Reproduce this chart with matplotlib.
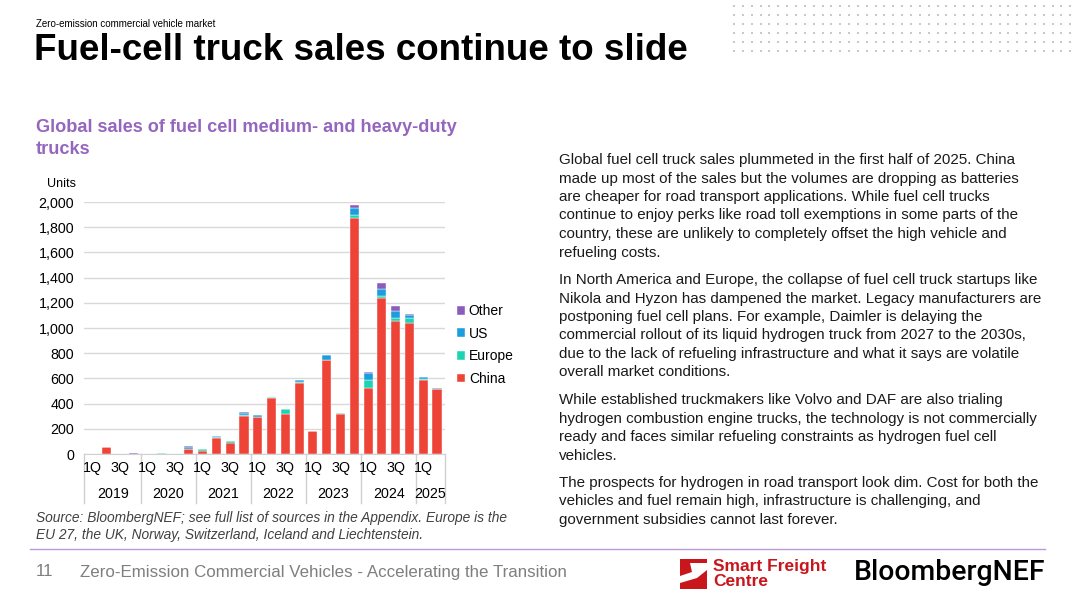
import matplotlib
matplotlib.use("Agg")
import matplotlib.pyplot as plt
import numpy as np
from matplotlib.patches import Rectangle, Polygon
from matplotlib.lines import Line2D

plt.rcParams["font.family"] = ["Liberation Sans", "DejaVu Sans"]

# quarterly sales, 1Q2019 .. 2Q2025
years = ["2019", "2020", "2021", "2022", "2023", "2024", "2025"]
quarters_per_year = [4, 4, 4, 4, 4, 4, 2]
china = [0, 55, 0, 0, 0, 0, 0, 40, 27, 130, 90, 305, 297, 445, 320, 560,
         180, 747, 318, 1870, 525, 1235, 1052, 1038, 585, 512]
europe = [0, 0, 0, 0, 0, 6, 0, 3, 15, 3, 13, 5, 0, 7, 35, 10,
          5, 3, 5, 25, 60, 22, 27, 45, 8, 5]
us = [0, 0, 0, 0, 0, 0, 0, 12, 0, 13, 0, 18, 10, 0, 0, 15,
      0, 35, 5, 60, 55, 50, 55, 20, 15, 10]
other = [0, 0, 0, 5, 0, 0, 0, 6, 0, 0, 0, 3, 0, 0, 0, 3,
         0, 0, 0, 22, 8, 53, 40, 8, 0, 0]
series = [("China", china, "#EE4438"), ("Europe", europe, "#1ED3B3"),
          ("US", us, "#1C9DDE"), ("Other", other, "#8C5CBD")]
quarter_labels = ["1Q", "", "3Q", ""]

W, H = 1080, 597
fig = plt.figure(figsize=(W / 100, H / 100), dpi=100)


def fx(px):
    return px / W


def fy(py):
    return 1 - py / H


# decorative dot grid, top right
for row_y in [6, 15, 24, 33, 42, 51]:
    for col in range(39):
        fig.add_artist(Rectangle((fx(733 + col * 8.85), fy(row_y + 1)), 2 / W, 2 / H,
                                 transform=fig.transFigure, color="#C8C8C8", lw=0))

fig.text(fx(36), fy(24), "Zero-emission commercial vehicle market", fontsize=7,
         va="center", ha="left")
fig.text(fx(34), fy(51), "Fuel-cell truck sales continue to slide", fontsize=26.5,
         weight="bold", va="center", ha="left")
fig.text(fx(36), fy(128), "Global sales of fuel cell medium- and heavy-duty", fontsize=13.1,
         weight="bold", color="#9466BE", va="center", ha="left")
fig.text(fx(36), fy(150), "trucks", fontsize=13.1, weight="bold", color="#9466BE",
         va="center", ha="left")
fig.text(fx(47), fy(184), "Units", fontsize=9, va="center", ha="left")

ax = fig.add_axes([fx(84), fy(454), fx(445) - fx(84), (454 - 202) / H])
n = len(china)
x = np.arange(n)
bottom = np.zeros(n)
for name, vals, color in series:
    ax.bar(x, vals, width=0.66, bottom=bottom, color=color, label=name,
           edgecolor="white", linewidth=0.3)
    bottom += np.array(vals)

ax.set_xlim(-0.6, n - 0.42)
ax.set_ylim(0, 2000)
ax.set_yticks(np.arange(0, 2001, 200))
ax.set_yticklabels([f"{v:,}" for v in range(0, 2001, 200)], fontsize=10.3)
ax.yaxis.grid(True, color="#D9D9D9", lw=1)
ax.set_axisbelow(True)
for side in ["top", "right", "left"]:
    ax.spines[side].set_visible(False)
ax.spines["bottom"].set_color("#D0D0D0")
ax.tick_params(axis="y", length=0, pad=7)
ax.tick_params(axis="x", length=0)
ax.set_xticks([])

# two-level category axis
trans = ax.get_xaxis_transform()
start = 0
edges = [-0.6]
for year, nq in zip(years, quarters_per_year):
    for q in range(nq):
        if quarter_labels[q]:
            ax.text(start + q, -0.056, quarter_labels[q], transform=trans, ha="center",
                    va="center", fontsize=10.3)
    ax.text(start + (nq - 1) / 2, -0.16, year, transform=trans, ha="center",
            va="center", fontsize=10.3)
    start += nq
    edges.append(start - 0.5 if start < n else n - 0.42)
for e in edges:
    ax.add_line(Line2D([e, e], [0, -0.195], transform=trans, color="#D0D0D0",
                       lw=1, clip_on=False))

handles, labels = ax.get_legend_handles_labels()
ax.legend(handles[::-1], labels[::-1], loc="upper left",
          bbox_to_anchor=(fx(457), fy(304)), bbox_transform=fig.transFigure,
          frameon=False, fontsize=10, handlelength=0.6, handleheight=0.6,
          handletextpad=0.25, labelspacing=0.62, borderpad=0, borderaxespad=0)

fig.text(fx(36), fy(518), "Source: BloombergNEF; see full list of sources in the Appendix. Europe is the",
         fontsize=9.9, style="italic", color="#404040", va="center", ha="left")
fig.text(fx(36), fy(535), "EU 27, the UK, Norway, Switzerland, Iceland and Liechtenstein.",
         fontsize=9.9, style="italic", color="#404040", va="center", ha="left")

paragraphs = [
    (160, ["Global fuel cell truck sales plummeted in the first half of 2025. China",
           "made up most of the sales but the volumes are dropping as batteries",
           "are cheaper for road transport applications. While fuel cell trucks",
           "continue to enjoy perks like road toll exemptions in some parts of the",
           "country, these are unlikely to completely offset the high vehicle and",
           "refueling costs."]),
    (280, ["In North America and Europe, the collapse of fuel cell truck startups like",
           "Nikola and Hyzon has dampened the market. Legacy manufacturers are",
           "postponing fuel cell plans. For example, Daimler is delaying the",
           "commercial rollout of its liquid hydrogen truck from 2027 to the 2030s,",
           "due to the lack of refueling infrastructure and what it says are volatile",
           "overall market conditions."]),
    (400, ["While established truckmakers like Volvo and DAF are also trialing",
           "hydrogen combustion engine trucks, the technology is not commercially",
           "ready and faces similar refueling constraints as hydrogen fuel cell",
           "vehicles."]),
    (483, ["The prospects for hydrogen in road transport look dim. Cost for both the",
           "vehicles and fuel remain high, infrastructure is challenging, and",
           "government subsidies cannot last forever."]),
]
for y0, lines in paragraphs:
    for i, line in enumerate(lines):
        fig.text(fx(559), fy(y0 + i * 18.5), line, fontsize=10.9, color="#1A1A1A",
                 va="center", ha="left")

fig.add_artist(Line2D([fx(30), fx(1045)], [fy(549), fy(549)], transform=fig.transFigure,
                      color="#B99BDA", lw=1))
fig.text(fx(36), fy(572), "11", fontsize=12.2, color="#7F7F7F", va="center", ha="left")
fig.text(fx(80), fy(572), "Zero-Emission Commercial Vehicles - Accelerating the Transition",
         fontsize=12.2, color="#7F7F7F", va="center", ha="left")

# Smart Freight Centre mark
fig.add_artist(Rectangle((fx(680), fy(589)), 27 / W, 30 / H, transform=fig.transFigure,
                         color="#C8161D", lw=0))
fig.add_artist(Polygon([(fx(690), fy(563)), (fx(707), fy(563)), (fx(707), fy(570)),
                        (fx(697), fy(578)), (fx(680), fy(583)), (fx(680), fy(576)),
                        (fx(692), fy(572))], closed=True, transform=fig.transFigure,
                       color="white", lw=0))
fig.text(fx(713), fy(566), "Smart Freight", fontsize=12.5, weight="bold", color="#C8161D",
         va="center", ha="left")
fig.text(fx(713), fy(582), "Centre", fontsize=12.5, weight="bold", color="#C8161D",
         va="center", ha="left")
fig.text(fx(854), fy(573), "BloombergNEF", fontsize=20.4, family=["Roboto", "Liberation Sans"],
         weight="medium", color="black", va="center", ha="left")

fig.savefig("out.png", dpi=100)
